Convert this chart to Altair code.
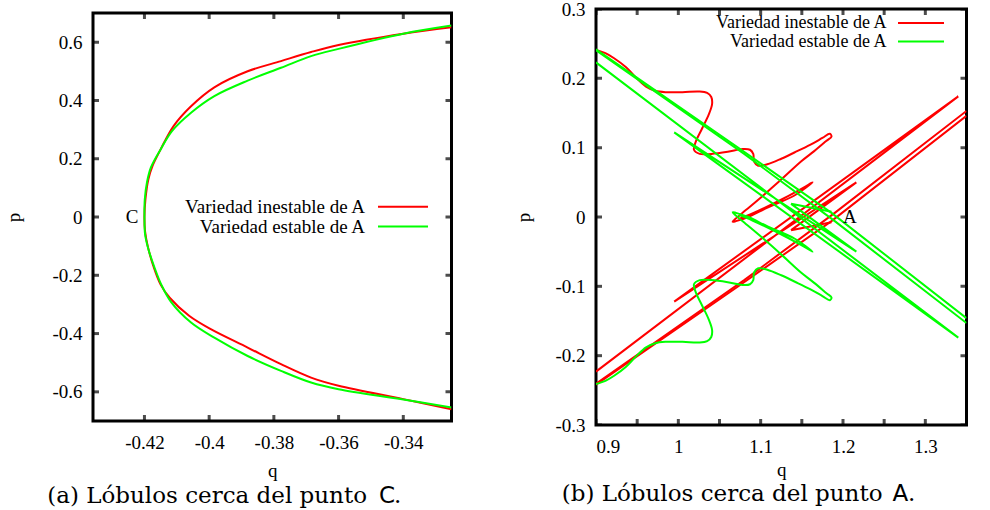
import altair as alt
import pandas as pd

SERIF = "Liberation Serif"
CAP_SERIF = "DejaVu Serif"
CAP_SANS = "DejaVu Sans"
RED = "#ff0000"
GREEN = "#00ff00"

# ---------------- Panel (a): lobes near point C ----------------
a_inest_q = [-0.3251, -0.340, -0.360, -0.3685, -0.3778, -0.3881, -0.3984, -0.4056, -0.4110, -0.4150,
             -0.4175, -0.4188, -0.4197, -0.4200, -0.4198, -0.4190, -0.4172, -0.4150, -0.4122, -0.4062,
             -0.3995, -0.3881, -0.3778, -0.3685, -0.360, -0.340, -0.3251]
a_inest_p = [0.651, 0.629, 0.590, 0.566, 0.535, 0.500, 0.445, 0.380, 0.312, 0.232,
             0.175, 0.129, 0.060, 0.000, -0.050, -0.099, -0.170, -0.232, -0.277, -0.339,
             -0.385, -0.448, -0.505, -0.551, -0.579, -0.625, -0.660]
a_est_q = [-0.3251, -0.340, -0.360, -0.3685, -0.3778, -0.3881, -0.3984, -0.4056, -0.4115, -0.4150,
           -0.4180, -0.4192, -0.4199, -0.4200, -0.4198, -0.4188, -0.4170, -0.4148, -0.4118, -0.4056,
           -0.3984, -0.3881, -0.3778, -0.3685, -0.360, -0.340, -0.3251]
a_est_p = [0.657, 0.629, 0.577, 0.552, 0.512, 0.468, 0.415, 0.358, 0.295, 0.232,
           0.170, 0.120, 0.060, 0.000, -0.060, -0.110, -0.170, -0.232, -0.291, -0.362,
           -0.414, -0.477, -0.528, -0.568, -0.591, -0.626, -0.654]
a_xticks = [-0.42, -0.40, -0.38, -0.36, -0.34]
a_yticks = [-0.6, -0.4, -0.2, 0.0, 0.2, 0.4, 0.6]
a_xdom = [-0.4359, -0.3251]
a_ydom = [-0.7, 0.7]

# ---------------- Panel (b): lobes near point A ----------------
b_inest_lobe_q = [0.900, 0.912, 0.922, 0.9365, 0.9487, 0.9608, 0.972, 0.985, 1.005, 1.025,
                  1.035, 1.040, 1.041, 1.037, 1.029, 1.021, 1.019, 1.026, 1.040, 1.060,
                  1.078, 1.087, 1.091, 1.092, 1.097, 1.108, 1.125, 1.141, 1.160, 1.175,
                  1.184, 1.186, 1.180, 1.165, 1.149, 1.125, 1.101, 1.082, 1.070, 1.066,
                  1.070, 1.085, 1.109, 1.141, 1.163, 1.150, 1.120, 1.090, 1.073]
b_inest_lobe_p = [0.241, 0.236, 0.229, 0.216, 0.201, 0.188, 0.182, 0.180, 0.180, 0.181,
                  0.179, 0.173, 0.163, 0.148, 0.128, 0.108, 0.097, 0.091, 0.091, 0.094,
                  0.098, 0.097, 0.091, 0.080, 0.074, 0.076, 0.084, 0.093, 0.104, 0.114,
                  0.120, 0.116, 0.110, 0.095, 0.080, 0.054, 0.029, 0.010, -0.002, -0.007,
                  -0.006, 0.000, 0.014, 0.031, 0.050, 0.041, 0.022, 0.005, -0.003]
b_inest_f1_q = [0.900, 1.0764, 1.186, 1.350]
b_inest_f1_p = [-0.242, -0.097, -0.006, 0.146]
b_inest_f2_q = [1.350, 1.190, 1.080, 0.900]
b_inest_f2_p = [0.153, 0.006, -0.091, -0.2405]
b_inest_f3_q = [0.900, 1.340, 0.995, 1.2162, 1.137, 1.186]
b_inest_f3_p = [-0.223, 0.174, -0.122, 0.050, -0.019, -0.0077]

b_est_lobe_q = [0.900, 0.912, 0.922, 0.9365, 0.9487, 0.9608, 0.972, 0.985, 1.005, 1.025,
                1.035, 1.040, 1.041, 1.037, 1.029, 1.021, 1.019, 1.026, 1.040, 1.060,
                1.078, 1.087, 1.091, 1.092, 1.097, 1.108, 1.125, 1.141, 1.160, 1.175,
                1.184, 1.186, 1.180, 1.165, 1.149, 1.125, 1.101, 1.082, 1.070, 1.066,
                1.070, 1.085, 1.109, 1.141, 1.163, 1.150, 1.120, 1.090, 1.073]
b_est_lobe_p = [-0.241, -0.236, -0.229, -0.216, -0.201, -0.188, -0.182, -0.180, -0.180, -0.181,
                -0.179, -0.173, -0.163, -0.148, -0.128, -0.108, -0.097, -0.091, -0.091, -0.094,
                -0.098, -0.097, -0.091, -0.080, -0.074, -0.076, -0.084, -0.093, -0.104, -0.114,
                -0.120, -0.116, -0.110, -0.095, -0.080, -0.054, -0.029, -0.010, 0.002, 0.007,
                0.006, 0.000, -0.014, -0.031, -0.050, -0.041, -0.022, -0.005, 0.003]
b_est_f1_q = [0.900, 1.0764, 1.186, 1.350]
b_est_f1_p = [0.242, 0.097, 0.006, -0.146]
b_est_f2_q = [1.350, 1.190, 1.080, 0.900]
b_est_f2_p = [-0.153, -0.006, 0.091, 0.2405]
b_est_f3_q = [0.900, 1.340, 0.995, 1.2162, 1.137, 1.186]
b_est_f3_p = [0.223, -0.174, 0.122, -0.050, 0.019, 0.0077]

b_xticks = [0.9, 0.95, 1.0, 1.05, 1.1, 1.15, 1.2, 1.25, 1.3, 1.35]
b_yticks = [-0.3, -0.2, -0.1, 0.0, 0.1, 0.2, 0.3]
b_xdom = [0.9, 1.35]
b_ydom = [-0.3, 0.3]

LEG_INEST = "Variedad inestable de A"
LEG_EST = "Variedad estable de A"

LBL = "datum.value < 0 ? '-' + format(-datum.value, '~g') : format(datum.value, '~g')"


def segs(pairs):
    frames = []
    for k, (q, p) in enumerate(pairs):
        frames.append(pd.DataFrame({"q": q, "p": p, "seg": k, "i": list(range(len(q)))}))
    return pd.concat(frames, ignore_index=True)


ONE = pd.DataFrame({"z": [0]})


def panel(w, h, xdom, ydom, xticks, yticks, red_smooth, red_lin, green_smooth, green_lin,
          xtitle_y, ytitle_x, label, label_q, label_align, label_dx,
          leg, leg_size, cap):
    xs = alt.Scale(domain=xdom, nice=False, zero=False)
    ys = alt.Scale(domain=ydom, nice=False, zero=False)
    xax = alt.Axis(values=xticks, title="q", labelExpr=LBL, labelPadding=12, ticks=False, tickSize=0,
                   domain=False, grid=False, titleY=xtitle_y, titleBaseline="middle")
    yax = alt.Axis(values=yticks, title="p", labelExpr=LBL, labelPadding=11, ticks=False, tickSize=0,
                   domain=False, grid=False, titleX=ytitle_x, titleY=h / 2, titleBaseline="middle",
                   titleAngle=270)

    def lines(df, color, interp, first=False):
        x = alt.X("q:Q", scale=xs, axis=xax) if first else alt.X("q:Q", scale=xs)
        y = alt.Y("p:Q", scale=ys, axis=yax) if first else alt.Y("p:Q", scale=ys)
        return alt.Chart(df).mark_line(color=color, strokeWidth=2, clip=True, interpolate=interp).encode(
            x=x, y=y, detail="seg:N", order="i:Q")

    layers = [
        lines(red_smooth, RED, "catmull-rom", first=True),
    ]
    if red_lin is not None:
        layers.append(lines(red_lin, RED, "linear"))
    layers.append(lines(green_smooth, GREEN, "catmull-rom"))
    if green_lin is not None:
        layers.append(lines(green_lin, GREEN, "linear"))

    xt = pd.DataFrame({"q": xticks})
    yt = pd.DataFrame({"p": yticks})
    for yv in (0, h):
        layers.append(alt.Chart(xt).mark_tick(orient="vertical", size=12, thickness=3, color="black",
                                              clip=True).encode(x=alt.X("q:Q", scale=xs), y=alt.value(yv)))
    for xv in (0, w):
        layers.append(alt.Chart(yt).mark_tick(orient="horizontal", size=12, thickness=3, color="black",
                                              clip=True).encode(y=alt.Y("p:Q", scale=ys), x=alt.value(xv)))

    # point label
    layers.append(alt.Chart(pd.DataFrame({"q": [label_q], "p": [0.0]})).mark_text(
        text=label, align=label_align, baseline="middle", dx=label_dx, font=SERIF, fontSize=19,
        color="black").encode(x=alt.X("q:Q", scale=xs), y=alt.Y("p:Q", scale=ys)))

    # key
    tx, lx1, lx2, y1, y2 = leg
    for txt, col, yy in ((LEG_INEST, RED, y1), (LEG_EST, GREEN, y2)):
        layers.append(alt.Chart(ONE).mark_text(text=txt, align="right", baseline="middle", font=SERIF,
                                               fontSize=leg_size, color="black").encode(
            x=alt.value(tx), y=alt.value(yy)))
        layers.append(alt.Chart(ONE).mark_rule(color=col, strokeWidth=2).encode(
            x=alt.value(lx1), x2=alt.value(lx2), y=alt.value(yy)))

    # caption
    c_text, c_letter, c_right, c_lx, c_dot, c_y = cap
    layers.append(alt.Chart(ONE).mark_text(text=c_text, align="right", baseline="middle", font=CAP_SERIF,
                                           fontSize=23, color="black").encode(
        x=alt.value(c_right), y=alt.value(c_y)))
    layers.append(alt.Chart(ONE).mark_text(text=c_letter, align="left", baseline="middle", font=CAP_SANS,
                                           fontSize=23, color="black").encode(
        x=alt.value(c_lx), y=alt.value(c_y)))
    layers.append(alt.Chart(ONE).mark_text(text=".", align="left", baseline="middle", font=CAP_SERIF,
                                           fontSize=23, color="black").encode(
        x=alt.value(c_dot), y=alt.value(c_y)))

    return alt.layer(*layers).properties(width=w, height=h)


left = panel(
    358.5, 408, a_xdom, a_ydom, a_xticks, a_yticks,
    segs([(a_inest_q, a_inest_p)]), None,
    segs([(a_est_q, a_est_p)]), None,
    49, -80, "C", -0.42, "right", -6,
    (272, 285, 335, 193.8, 213.5), 19,
    ("(a) Lóbulos cerca del punto", "C", 274, 286, 301, 482.5),
)

right = panel(
    370.5, 416, b_xdom, b_ydom, b_xticks, b_yticks,
    segs([(b_inest_lobe_q, b_inest_lobe_p)]),
    segs([(b_inest_f1_q, b_inest_f1_p), (b_inest_f2_q, b_inest_f2_p), (b_inest_f3_q, b_inest_f3_p)]),
    segs([(b_est_lobe_q, b_est_lobe_p)]),
    segs([(b_est_f1_q, b_est_f1_p), (b_est_f2_q, b_est_f2_p), (b_est_f3_q, b_est_f3_p)]),
    44, -73, "A", 1.2, "left", 0,
    (290.5, 302, 348, 14.0, 32.5), 18,
    ("(b) Lóbulos cerca del punto", "A", 286.5, 296.5, 312, 485),
)

chart = alt.hconcat(left, right, spacing=144, bounds="flush", center=True).properties(
    padding={"left": 2, "top": -2, "right": 0, "bottom": 0}
).configure_view(stroke="black", strokeWidth=3).configure_axis(
    labelFont=SERIF, labelFontSize=19, labelColor="black",
    titleFont=SERIF, titleFontSize=19, titleFontWeight="normal", titleColor="black"
)

chart.save("out.html", embed_options={"renderer": "svg", "actions": False})
